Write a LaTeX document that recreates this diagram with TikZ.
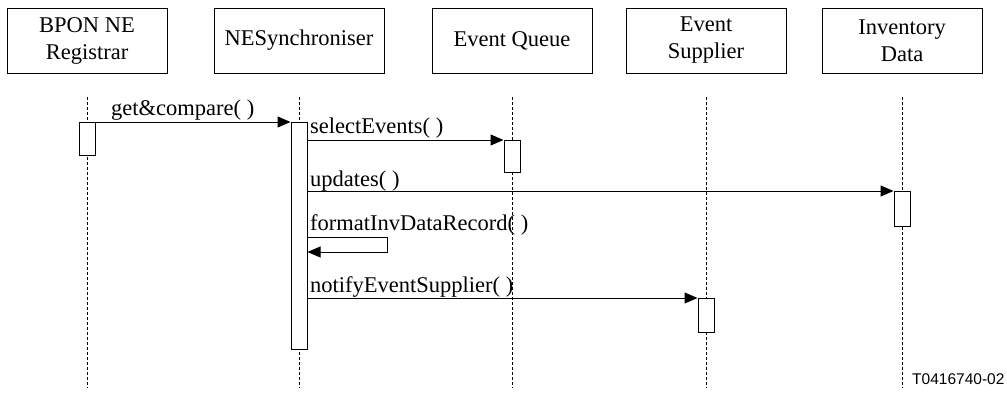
\documentclass[tikz,border=0pt]{standalone}
\usepackage{fontspec}
\setmainfont{Liberation Serif}
\newfontfamily\labelsans{Liberation Sans}
\usetikzlibrary{arrows.meta}
\begin{document}
\begin{tikzpicture}[x=1pt,y=-1pt,
  head/.style={draw,line width=1pt,rectangle,minimum height=65pt,inner sep=0pt,align=center,
    font=\fontsize{22.5}{27}\selectfont},
  act/.style={draw,line width=1pt,fill=white,rectangle,anchor=north,inner sep=0pt,minimum width=16pt},
  lifeline/.style={line width=0.8pt,dash pattern=on 3pt off 2pt},
  msg/.style={line width=1pt,-{Triangle[length=13pt,width=11pt]}},
  msgtext/.style={anchor=base west,inner sep=0pt,font=\fontsize{22.5}{27}\selectfont}]
\useasboundingbox (0,0) rectangle (1007,394);
% heads
\node[head,minimum width=160pt] (h1) at (87,40.5) {BPON NE\\Registrar};
\node[head,minimum width=170pt] (h2) at (299,40.5) {NESynchroniser};
\node[head,minimum width=160pt] (h3) at (512,40.5) {Event Queue};
\node[head,minimum width=160pt] (h4) at (706,40.5) {Event\\Supplier};
\node[head,minimum width=160pt] (h5) at (902,40.5) {Inventory\\Data};
% lifelines
\foreach \i in {1,...,5}{
  \coordinate (s\i) at (h\i.south |- 0,97);
  \coordinate (e\i) at (h\i.south |- 0,388);
  \draw[lifeline] (s\i) -- (e\i);
}
% activations
\node[act,minimum height=33pt] (a1) at (87,122) {};
\node[act,minimum height=227pt] (a2) at (299,122) {};
\node[act,minimum height=32pt] (a3) at (512,140) {};
\node[act,minimum height=35pt] (a5) at (902,191) {};
\node[act,minimum height=34pt] (a4) at (706,298) {};
% messages
\draw[msg] (a1.north east) -- (a2.north west);
\node[msgtext] (t1) at (111,115) {get\&compare( )};
\draw[msg] (a2.east |- a3.north) -- (a3.north west);
\node[msgtext] (t2) at (310,133) {selectEvents( )};
\draw[msg] (a2.east |- a5.north) -- (a5.north west);
\node[msgtext] (t3) at (310,186) {updates( )};
\coordinate (l1) at (387,237);
\coordinate (l2) at (387,252);
\draw[msg] (a2.east |- l1) -- (l1) -- (l2) -- (a2.east |- l2);
\node[msgtext] (t4) at (310,230) {formatInvDataRecord( )};
\draw[msg] (a2.east |- a4.north) -- (a4.north west);
\node[msgtext] (t5) at (310,292) {notifyEventSupplier( )};
% figure id
\node[anchor=base west,inner sep=0pt,font=\labelsans\fontsize{15.5}{18}\selectfont] (id) at (912,384) {T0416740-02};
\end{tikzpicture}
\end{document}
